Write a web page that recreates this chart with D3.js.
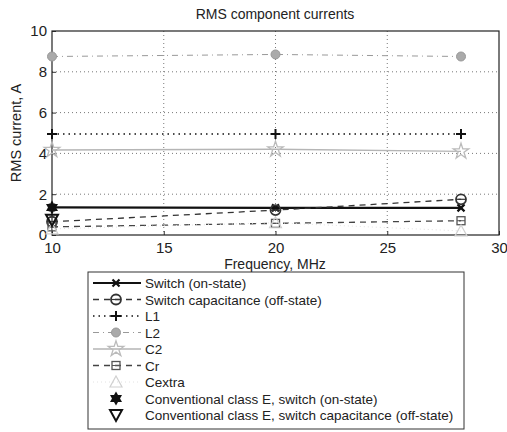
<!DOCTYPE html>
<html>
<head>
<meta charset="utf-8">
<script src="https://cdn.jsdelivr.net/npm/d3@7.9.0/dist/d3.min.js"></script>
<style>
  body { margin: 0; background: #fff; }
  text { font-family: "Liberation Sans", Arial, sans-serif; fill: #222; }
</style>
</head>
<body>
<div id="viz"></div>
<script>
// frequencies (MHz)
const freqs = [10, 20, 28.3];

// RMS currents, A
const switchOn = [1.35, 1.33, 1.33];
const switchCap = [0.65, 1.22, 1.75];
const l1 = [4.95, 4.95, 4.95];
const l2 = [8.75, 8.85, 8.75];
const c2 = [4.17, 4.2, 4.1];
const cr = [0.4, 0.57, 0.7];
const cextra = [0.3, 0.6, 0.2];
const convSwitchOn = [1.35];
const convSwitchCap = [0.75];

const xTicks = [10, 15, 20, 25, 30];
const yTicks = [0, 2, 4, 6, 8, 10];

const width = 507, height = 432;
const margin = {top: 31, right: 8, bottom: 197, left: 52};
const plotW = width - margin.left - margin.right;
const plotH = height - margin.top - margin.bottom;

const svg = d3.select("#viz").append("svg")
    .attr("width", width)
    .attr("height", height);

const x = d3.scaleLinear().domain([10, 30]).range([margin.left, margin.left + plotW]);
const y = d3.scaleLinear().domain([0, 10]).range([margin.top + plotH, margin.top]);

// grid
svg.append("g").selectAll("line")
    .data(xTicks.slice(1, -1))
    .join("line")
    .attr("x1", d => x(d)).attr("x2", d => x(d))
    .attr("y1", margin.top).attr("y2", margin.top + plotH)
    .attr("stroke", "#555").attr("stroke-width", 0.8)
    .attr("stroke-dasharray", "1,3");
svg.append("g").selectAll("line")
    .data(yTicks.slice(1, -1))
    .join("line")
    .attr("y1", d => y(d)).attr("y2", d => y(d))
    .attr("x1", margin.left).attr("x2", margin.left + plotW)
    .attr("stroke", "#555").attr("stroke-width", 0.8)
    .attr("stroke-dasharray", "1,3");

// axes (ticks inward, box)
svg.append("g")
    .attr("transform", `translate(0,${margin.top + plotH})`)
    .call(d3.axisBottom(x).tickValues(xTicks).tickSize(-4).tickPadding(7).tickFormat(d3.format("d")))
    .call(g => g.selectAll("text").attr("font-size", 15).attr("fill", "#222"));
svg.append("g")
    .attr("transform", `translate(${margin.left},0)`)
    .call(d3.axisLeft(y).tickValues(yTicks).tickSize(-4).tickPadding(5).tickFormat(d3.format("d")))
    .call(g => g.selectAll("text").attr("font-size", 15).attr("fill", "#222"));
svg.selectAll(".domain").remove();
svg.selectAll(".tick line").attr("stroke", "#333");
svg.append("rect")
    .attr("x", margin.left).attr("y", margin.top)
    .attr("width", plotW).attr("height", plotH)
    .attr("fill", "none").attr("stroke", "#222").attr("stroke-width", 1.2);

// series definitions
const series = [
  {name: "Switch (on-state)", vals: switchOn, color: "#111", width: 2.2, dash: null, marker: "x"},
  {name: "Switch capacitance (off-state)", vals: switchCap, color: "#333", width: 1.3, dash: "6,5", marker: "circle"},
  {name: "L1", vals: l1, color: "#111", width: 1.4, dash: "1.5,4", marker: "plus"},
  {name: "L2", vals: l2, color: "#999", width: 1, dash: "6,4,1,4", marker: "dot"},
  {name: "C2", vals: c2, color: "#b5b5b5", width: 1.4, dash: null, marker: "star"},
  {name: "Cr", vals: cr, color: "#444", width: 1.3, dash: "6,5", marker: "square"},
  {name: "Cextra", vals: cextra, color: "#e2e2e2", width: 1, dash: "1,3", marker: "triangle"},
  {name: "Conventional class E, switch (on-state)", vals: convSwitchOn, color: "#111", width: 0, dash: null, marker: "hexagram"},
  {name: "Conventional class E, switch capacitance (off-state)", vals: convSwitchCap, color: "#111", width: 0, dash: null, marker: "tridown"}
];

function drawMarker(g, type, cx, cy, color) {
  const m = g.append("g").attr("transform", `translate(${cx},${cy})`);
  if (type === "x") {
    m.append("path").attr("d", "M-3.5,-3.5L3.5,3.5M-3.5,3.5L3.5,-3.5").attr("stroke", color).attr("stroke-width", 2.2);
  } else if (type === "circle") {
    m.append("circle").attr("r", 5).attr("fill", "none").attr("stroke", color).attr("stroke-width", 1.8);
    m.append("line").attr("x1", -5).attr("x2", 5).attr("stroke", color).attr("stroke-width", 1.2);
  } else if (type === "plus") {
    m.append("path").attr("d", "M-5,0L5,0M0,-5L0,5").attr("stroke", color).attr("stroke-width", 2);
  } else if (type === "dot") {
    m.append("circle").attr("r", 4.5).attr("fill", "#aaa").attr("stroke", "#999").attr("stroke-width", 1);
  } else if (type === "star") {
    m.append("path").attr("d", d3.symbol(d3.symbolStar, 75)()).attr("fill", "none").attr("stroke", "#bbb").attr("stroke-width", 1.3);
  } else if (type === "square") {
    m.append("rect").attr("x", -4).attr("y", -4).attr("width", 8).attr("height", 8)
      .attr("fill", "none").attr("stroke", "#555").attr("stroke-width", 1.3);
    m.append("line").attr("x1", -4).attr("x2", 4).attr("stroke", "#555");
  } else if (type === "triangle") {
    m.append("path").attr("d", "M0,-6L6,5L-6,5Z").attr("fill", "none").attr("stroke", "#d0d0d0").attr("stroke-width", 1.2);
  } else if (type === "hexagram") {
    m.append("path").attr("d", "M0,-7L6,3.5L-6,3.5Z").attr("fill", color);
    m.append("path").attr("d", "M0,7L6,-3.5L-6,-3.5Z").attr("fill", color);
  } else if (type === "tridown") {
    m.append("path").attr("d", "M-6,-5L6,-5L0,6Z").attr("fill", "none").attr("stroke", color).attr("stroke-width", 2);
  }
}

const line = d3.line().x(d => x(d[0])).y(d => y(d[1]));
const marks = svg.append("g");
series.forEach(s => {
  const pts = s.vals.map((v, i) => [freqs[i], v]);
  if (s.width > 0 && pts.length > 1) {
    marks.append("path").datum(pts)
      .attr("d", line)
      .attr("fill", "none")
      .attr("stroke", s.color)
      .attr("stroke-width", s.width)
      .attr("stroke-dasharray", s.dash);
  }
  pts.forEach(p => drawMarker(marks, s.marker, x(p[0]), y(p[1]), s.color));
});

// title and labels
svg.append("text").attr("x", 275).attr("y", 19).attr("text-anchor", "middle")
    .attr("font-size", 14).text("RMS component currents");
svg.append("text").attr("x", 275).attr("y", 269).attr("text-anchor", "middle")
    .attr("font-size", 14).text("Frequency, MHz");
svg.append("text").attr("transform", `translate(21,${margin.top + plotH / 2}) rotate(-90)`)
    .attr("text-anchor", "middle").attr("font-size", 14.5).text("RMS current, A");

// legend
const legX = 88, legY = 272, legW = 376, legH = 157, rowH = 16.5;
const legend = svg.append("g");
legend.append("rect").attr("x", legX).attr("y", legY).attr("width", legW).attr("height", legH)
    .attr("fill", "#fff").attr("stroke", "#333").attr("stroke-width", 1);
series.forEach((s, i) => {
  const ry = legY + 11 + i * rowH;
  if (s.width > 0) {
    legend.append("line").attr("x1", legX + 5).attr("x2", legX + 53)
      .attr("y1", ry).attr("y2", ry)
      .attr("stroke", s.color).attr("stroke-width", s.width)
      .attr("stroke-dasharray", s.dash);
  }
  drawMarker(legend, s.marker, legX + 28, ry, s.color);
  legend.append("text").attr("x", legX + 57).attr("y", ry + 5)
    .attr("font-size", 13.5).text(s.name);
});
</script>
</body>
</html>
